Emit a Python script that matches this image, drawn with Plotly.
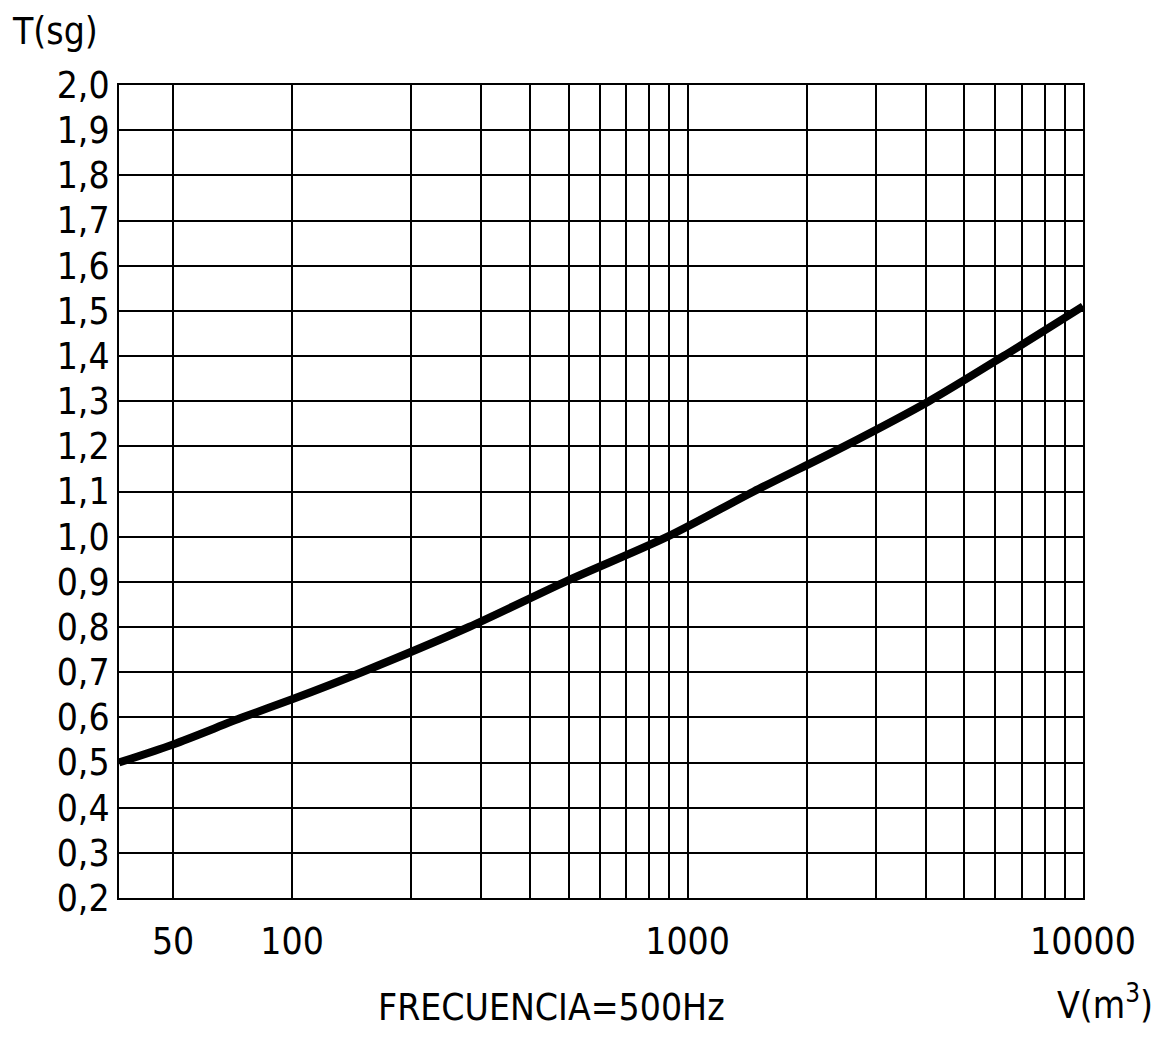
import plotly.graph_objects as go
import math

# Data
volume_m3 = [36.5, 50, 75, 100, 150, 280, 490, 890, 1470, 2490, 4080, 6300, 10000]
reverb_s = [0.50, 0.54, 0.60, 0.64, 0.70, 0.80, 0.90, 1.00, 1.10, 1.20, 1.30, 1.40, 1.51]

x_major_ticks = [50, 100, 1000, 10000]
x_major_text = ["50", "100", "1000", "10000"]
x_minor_grid = [200, 300, 400, 500, 600, 700, 800, 900,
                2000, 3000, 4000, 5000, 6000, 7000, 8000, 9000]
y_ticks = [round(0.2 + 0.1 * i, 1) for i in range(19)]

FONT = "DejaVu Sans Condensed, Liberation Sans, sans-serif"
FS = 37

fig = go.Figure()
fig.add_trace(go.Scatter(
    x=volume_m3, y=reverb_s, mode="lines",
    line=dict(color="black", width=8, shape="spline", smoothing=0.8),
    showlegend=False, hoverinfo="x+y"))

fig.update_layout(
    width=1172, height=1037,
    margin=dict(l=119, r=89, t=85, b=139),
    paper_bgcolor="white", plot_bgcolor="white",
    separators=",.",
    font=dict(family=FONT, size=FS, color="black"),
    xaxis=dict(
        type="log", range=[math.log10(36.5), 4],
        tickmode="array", tickvals=x_major_ticks, ticktext=x_major_text,
        showgrid=True, gridcolor="black", gridwidth=2,
        showline=True, mirror=True, linecolor="black", linewidth=2,
        ticks="", ticklabelstandoff=10,
        minor=dict(tickmode="array", tickvals=x_minor_grid, showgrid=True,
                   gridcolor="black", gridwidth=2, ticks=""),
        zeroline=False,
        tickfont=dict(family=FONT, size=FS, color="black"),
    ),
    yaxis=dict(
        range=[0.2, 2.0],
        tickmode="array", tickvals=y_ticks, tickformat=".1f",
        showgrid=True, gridcolor="black", gridwidth=2,
        showline=True, mirror=True, linecolor="black", linewidth=2,
        ticks="", ticklabelstandoff=0, zeroline=False,
        tickfont=dict(family=FONT, size=FS, color="black"),
    ),
    annotations=[
        dict(text="T(sg)", xref="paper", yref="paper", x=-0.113, y=1.066,
             xanchor="left", yanchor="middle", showarrow=False,
             font=dict(family=FONT, size=FS, color="black")),
        dict(text="FRECUENCIA=500Hz", xref="paper", yref="paper", x=0.449, y=-0.135,
             xanchor="center", yanchor="middle", showarrow=False,
             font=dict(family=FONT, size=FS, color="black")),
        dict(text="V(m<sup>3</sup>)", xref="paper", yref="paper", x=1.023, y=-0.129,
             xanchor="center", yanchor="middle", showarrow=False,
             font=dict(family=FONT, size=FS, color="black")),
    ],
)

fig.write_html("out.html")
